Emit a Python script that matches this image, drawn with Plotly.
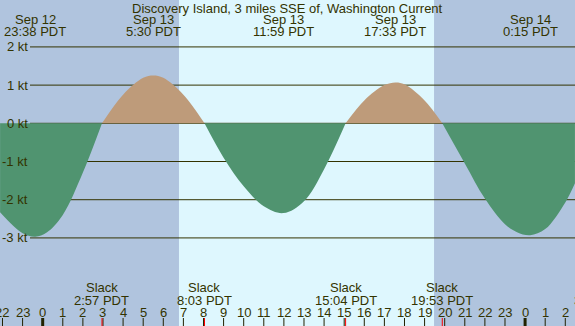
import plotly.graph_objects as go

# ---------------- data (hours since Sep 13 00:00 PDT) ----------------
times_h = [-2.12, -1.00, -0.37, 0.20, 1.00, 2.00, 2.95, 4.00, 5.00, 5.50, 6.00, 7.00,
           8.05, 9.00, 10.00, 11.00, 11.98, 13.00, 14.00, 15.07, 16.00, 17.00, 17.55,
           18.00, 19.00, 19.88, 21.00, 22.00, 23.00, 23.60, 24.25, 25.00, 26.00, 26.48]
speed_kt = [-2.33, -2.88, -2.97, -2.86, -2.40, -1.29, 0.00, 0.75, 1.19, 1.25, 1.19, 0.75,
            0.00, -0.90, -1.65, -2.17, -2.35, -2.04, -1.20, 0.00, 0.60, 1.00, 1.07,
            1.02, 0.60, 0.00, -1.05, -1.97, -2.64, -2.85, -2.93, -2.77, -2.07, -1.57]

peak_times = [-0.37, 5.50, 11.98, 17.55, 24.25]
peak_dates = ["Sep 12", "Sep 13", "Sep 13", "Sep 13", "Sep 14"]
peak_clock = ["23:38 PDT", "5:30 PDT", "11:59 PDT", "17:33 PDT", "0:15 PDT"]

slack_times = [2.95, 8.05, 15.07, 19.88, 27.80]
slack_clock = ["2:57 PDT", "8:03 PDT", "15:04 PDT", "19:53 PDT", "3:48 PDT"]

hour_ticks = list(range(-2, 28))
hour_labels = [str(h % 24) for h in hour_ticks]

level_ticks = [2, 1, 0, -1, -2, -3]
level_labels = ["2 kt", "1 kt", "0 kt", "-1 kt", "-2 kt", "-3 kt"]

sunrise_h = 6.78
sunset_h = 19.47

title_text = "Discovery Island, 3 miles SSE of, Washington Current"

# ---------------- layout constants ----------------
W, H = 575, 326
X0, X1 = -2.124, 26.483
Y0, Y1 = -5.306, 3.228
NIGHT = "#b0c4de"
DAY = "#def7fe"
EBB = "#509470"
FLOOD = "#be9b7a"
INK = "#333300"
FONT = dict(family="Liberation Sans", size=13, color=INK)


def xp(t):
    return (t - X0) / (X1 - X0)


def yp(pix):
    return 1 - pix / H


fig = go.Figure()

# split the curve into lobes at slack (zero) points
segments = []
cur_t, cur_v = [], []
for t, v in zip(times_h, speed_kt):
    cur_t.append(t)
    cur_v.append(v)
    if v == 0 and len(cur_t) > 1:
        segments.append((cur_t, cur_v))
        cur_t, cur_v = [t], [v]
if len(cur_t) > 1:
    segments.append((cur_t, cur_v))

for st, sv in segments:
    sign = sum(sv)
    fig.add_trace(go.Scatter(
        x=st, y=sv, mode="lines", line=dict(shape="spline", width=0, smoothing=1.0),
        fill="tozeroy", fillcolor=FLOOD if sign > 0 else EBB,
        hoverinfo="skip", showlegend=False))

shapes = []
# night shading
shapes.append(dict(type="rect", xref="x", yref="paper", x0=X0, x1=sunrise_h, y0=0, y1=1,
                   fillcolor=NIGHT, line=dict(width=0), layer="below"))
shapes.append(dict(type="rect", xref="x", yref="paper", x0=sunset_h, x1=X1, y0=0, y1=1,
                   fillcolor=NIGHT, line=dict(width=0), layer="below"))
# level lines
for lv in level_ticks:
    shapes.append(dict(type="line", xref="paper", yref="y", x0=30 / W, x1=1, y0=lv, y1=lv,
                       line=dict(color=INK, width=1), layer="below"))
# hour ticks
for h in hour_ticks:
    shapes.append(dict(type="line", xref="x", yref="paper", x0=h, x1=h,
                       y0=0, y1=8 / H,
                       line=dict(color="#222200", width=3 if h % 24 == 0 else 1)))
# slack ticks
for s in slack_times:
    shapes.append(dict(type="line", xref="x", yref="paper", x0=s, x1=s, y0=0, y1=8 / H,
                       line=dict(color="#ff0000", width=1)))

ann = []
ann.append(dict(text=title_text, xref="paper", yref="paper", x=287 / W, y=yp(8.5),
                xanchor="center", yanchor="middle", showarrow=False, font=FONT, borderpad=0))
for t, d, c in zip(peak_times, peak_dates, peak_clock):
    ann.append(dict(text=d, xref="paper", yref="paper", x=xp(t), y=yp(20),
                    xanchor="center", yanchor="middle", showarrow=False, font=FONT, borderpad=0))
    ann.append(dict(text=c, xref="paper", yref="paper", x=xp(t), y=yp(32),
                    xanchor="center", yanchor="middle", showarrow=False, font=FONT, borderpad=0))
for t, c in zip(slack_times, slack_clock):
    ann.append(dict(text="Slack", xref="paper", yref="paper", x=xp(t), y=yp(287),
                    xanchor="center", yanchor="middle", showarrow=False, font=FONT, borderpad=0))
    ann.append(dict(text=c, xref="paper", yref="paper", x=xp(t), y=yp(300),
                    xanchor="center", yanchor="middle", showarrow=False, font=FONT, borderpad=0))
for h, lab in zip(hour_ticks, hour_labels):
    ann.append(dict(text=lab, xref="paper", yref="paper", x=xp(h), y=yp(312),
                    xanchor="center", yanchor="middle", showarrow=False, font=FONT, borderpad=0))
for lv, lab in zip(level_ticks, level_labels):
    ann.append(dict(text=lab, xref="paper", yref="y", x=28.5 / W, y=lv,
                    xanchor="right", yanchor="middle", showarrow=False, font=FONT, borderpad=0))

fig.update_layout(
    width=W, height=H, margin=dict(l=0, r=0, t=0, b=0),
    paper_bgcolor=DAY, plot_bgcolor=DAY,
    xaxis=dict(range=[X0, X1], visible=False, fixedrange=True),
    yaxis=dict(range=[Y0, Y1], visible=False, fixedrange=True),
    shapes=shapes, annotations=ann, showlegend=False,
)

fig.write_html(
    "out.html",
    config={"displayModeBar": False, "staticPlot": True},
    post_script="document.body.style.margin='0';document.body.style.overflow='hidden';",
)
